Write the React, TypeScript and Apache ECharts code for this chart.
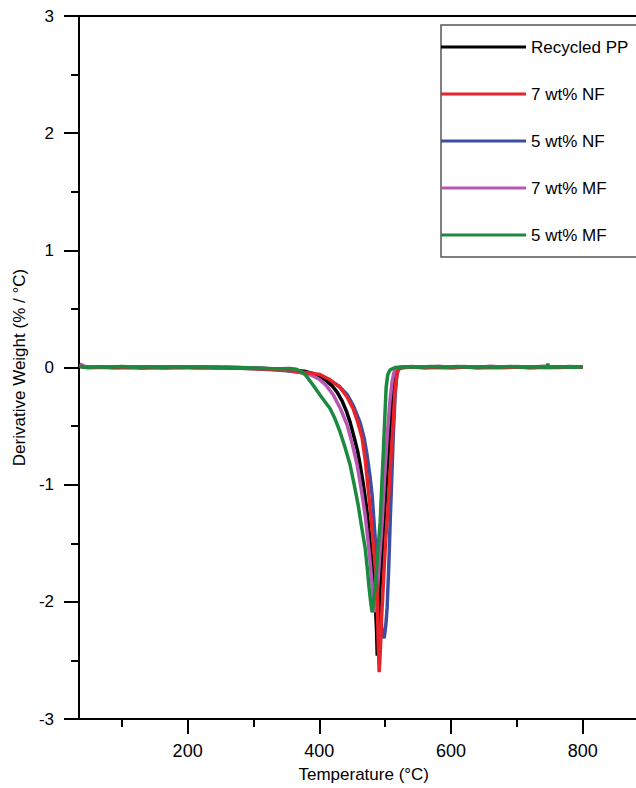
import React, { useEffect, useRef } from "react";
import * as echarts from "echarts";

const seriesNames = ["Recycled PP", "7 wt% NF", "5 wt% NF", "7 wt% MF", "5 wt% MF"];
const seriesColors = ["#000000", "#e8232a", "#3a4ea3", "#b955b3", "#1b8a3f"];

const xMajorTicks = [200, 400, 600, 800];
const xMinorTicks = [100, 300, 500, 700, 900];

const recycledPP: number[][] = [
  [36, 0.01], [50, 0.0], [70, 0.005], [90, 0.0], [110, 0.004], [130, -0.002], [150, 0.003], [170, 0.0],
  [190, 0.004], [210, 0.0], [230, 0.002], [250, 0.0], [270, -0.002], [290, -0.004], [310, -0.006],
  [330, -0.01], [350, -0.016], [365, -0.025], [380, -0.035], [390, -0.05], [400, -0.075], [410, -0.11],
  [420, -0.16], [427, -0.21], [435, -0.29], [441, -0.37], [447, -0.47], [453, -0.6], [458, -0.71],
  [462, -0.83], [467, -1.0], [472.6, -1.23], [476, -1.42], [480, -1.66], [483, -1.86], [485, -2.0],
  [487, -2.25], [488, -2.46], [489, -2.3], [490, -2.1], [492.5, -1.85], [495.4, -1.6], [499, -1.25],
  [503, -0.89], [507, -0.55], [510.6, -0.23], [513, -0.09], [515, -0.03], [518, -0.005], [525, 0.0],
  [540, 0.004], [560, 0.0], [580, 0.005], [600, 0.0], [620, 0.004], [640, 0.0], [660, 0.005],
  [680, 0.002], [700, 0.005], [720, 0.0], [740, 0.004], [760, 0.002], [780, 0.005], [800, 0.003],
];

const nf7: number[][] = [
  [36, 0.01], [48, 0.0], [65, 0.004], [85, -0.002], [105, 0.003], [125, 0.0], [145, 0.002], [165, -0.003],
  [185, 0.002], [205, 0.0], [225, -0.002], [245, 0.0], [265, -0.004], [285, -0.006], [305, -0.01],
  [325, -0.014], [345, -0.02], [360, -0.03], [375, -0.04], [390, -0.05], [401, -0.06], [415, -0.1],
  [431.5, -0.17], [442, -0.25], [451.3, -0.35], [458, -0.46], [465, -0.6], [470, -0.8], [474.1, -1.03],
  [478, -1.25], [481.7, -1.49], [485, -1.7], [487.8, -1.88], [489.3, -2.31], [490.9, -2.6], [492.4, -2.45],
  [494.5, -2.15], [497, -1.88], [500.5, -1.5], [504.6, -1.17], [508.5, -0.8], [512.2, -0.47], [515, -0.2],
  [518.3, -0.04], [522, -0.005], [530, 0.0], [545, 0.004], [565, 0.0], [585, 0.003], [605, -0.002],
  [625, 0.004], [645, 0.0], [665, 0.003], [685, 0.0], [705, 0.004], [725, 0.001], [745, 0.004],
  [765, 0.0], [785, 0.004], [800, 0.002],
];

const nf5: number[][] = [
  [36, 0.01], [50, 0.002], [70, 0.0], [90, 0.004], [110, -0.002], [130, 0.002], [150, 0.0], [170, 0.003],
  [190, -0.002], [210, 0.002], [230, 0.0], [250, -0.003], [270, -0.005], [300, -0.01], [330, -0.02],
  [350, -0.028], [370.6, -0.04], [395, -0.07], [416.3, -0.11], [430, -0.16], [442.2, -0.23], [452, -0.33],
  [462, -0.47], [468, -0.6], [472.6, -0.75], [477, -0.93], [480.2, -1.09], [484.8, -1.45], [489.3, -1.88],
  [492.5, -2.1], [495.4, -2.26], [498.5, -2.31], [501, -2.2], [503, -2.05], [505.5, -1.7], [507.6, -1.32],
  [510, -0.95], [512.2, -0.6], [515.2, -0.23], [517.5, -0.08], [519.8, -0.02], [524, 0.0], [535, 0.004],
  [555, 0.0], [575, 0.003], [595, 0.0], [615, 0.004], [635, -0.001], [655, 0.003], [675, 0.0],
  [695, 0.004], [715, 0.0], [735, 0.003], [755, 0.0], [775, 0.004], [800, 0.002],
];

const mf7: number[][] = [
  [36, 0.03], [40, 0.02], [45, 0.005], [60, 0.0], [75, 0.006], [95, -0.003], [115, 0.005], [135, 0.0],
  [155, 0.006], [175, -0.002], [195, 0.004], [215, 0.0], [235, 0.005], [255, -0.002], [275, 0.0],
  [300, -0.006], [330, -0.012], [355, -0.025], [370, -0.04], [385.8, -0.06], [400, -0.1], [410, -0.15],
  [420.9, -0.23], [432, -0.35], [442.2, -0.49], [450, -0.65], [457.4, -0.83], [464, -1.05], [469.6, -1.26],
  [474, -1.48], [477.2, -1.66], [480, -1.84], [481.7, -1.94], [484.8, -2.09], [487.8, -1.94], [491.5, -1.63],
  [495.4, -1.32], [499, -0.95], [503, -0.6], [507, -0.3], [510.6, -0.12], [513, -0.05], [516, -0.01],
  [522, 0.0], [540, 0.008], [560, 0.0], [580, 0.01], [600, 0.002], [620, 0.009], [640, 0.0],
  [660, 0.01], [680, 0.002], [700, 0.008], [720, 0.0], [740, 0.01], [760, 0.003], [780, 0.009], [800, 0.004],
];

const mf5: number[][] = [
  [36, 0.01], [45, 0.0], [60, 0.006], [80, 0.002], [100, 0.008], [120, 0.003], [140, 0.007], [160, 0.002],
  [180, 0.006], [200, 0.003], [220, 0.006], [240, 0.002], [260, 0.005], [280, 0.0], [300, -0.005],
  [320, -0.008], [340, -0.01], [355, -0.008], [365, -0.015], [373, -0.035], [380, -0.07], [390.4, -0.15], [403, -0.25],
  [416.3, -0.35], [424, -0.44], [431.5, -0.55], [439, -0.68], [446.7, -0.83], [453, -1.0], [458.9, -1.17],
  [464, -1.35], [469.6, -1.54], [473, -1.72], [475.6, -1.88], [478, -2.0], [480.2, -2.09], [482.5, -2.0],
  [484.8, -1.88], [488.5, -1.6], [492.4, -1.32], [494.7, -1.03], [497, -0.75], [499.3, -0.45], [501.5, -0.17],
  [504, -0.06], [507.6, -0.02], [515, 0.0], [530, 0.006], [550, 0.002], [570, 0.008], [590, 0.003],
  [610, 0.008], [630, 0.002], [650, 0.007], [670, 0.003], [690, 0.008], [710, 0.002], [730, 0.006],
  [745, 0.0], [747, 0.03], [749, 0.0], [765, 0.006], [785, 0.002], [800, 0.005],
];

const seriesData = [recycledPP, nf7, nf5, mf7, mf5];
// drawing order (bottom to top)
const drawOrder = [2, 0, 3, 1, 4];

const FONT = "'Liberation Sans', Arial, Helvetica, sans-serif";

export default function App() {
  const ref = useRef<HTMLDivElement>(null);

  useEffect(() => {
    if (!ref.current) return;
    const chart = echarts.init(ref.current, null, { renderer: "svg" });
    const option: any = {
      animation: false,
      backgroundColor: "#ffffff",
      textStyle: { fontFamily: FONT },
      grid: {
        left: 79,
        top: 16,
        right: 51.5,
        bottom: 69,
        show: true,
        borderColor: "#000",
        borderWidth: 2,
        backgroundColor: "transparent",
      },
      legend: {
        orient: "vertical",
        left: 441,
        top: 25,
        icon: "rect",
        itemWidth: 85,
        itemHeight: 3,
        itemGap: 29,
        padding: [13, 12, 13, 0],
        borderColor: "#555",
        borderWidth: 1.5,
        backgroundColor: "#fff",
        data: seriesNames,
        textStyle: { fontSize: 17, color: "#000", lineHeight: 18, fontFamily: FONT },
      },
      xAxis: [
        {
          type: "value",
          min: 35,
          max: 900,
          position: "bottom",
          axisLine: { show: true, onZero: false, lineStyle: { color: "#000", width: 2 } },
          axisTick: { show: true, inside: false, customValues: xMajorTicks, length: 15, lineStyle: { color: "#000", width: 2 } },
          axisLabel: { customValues: xMajorTicks, fontSize: 18, color: "#000", margin: 23, fontFamily: FONT },
          splitLine: { show: false },
          name: "Temperature (°C)",
          nameLocation: "middle",
          nameGap: 47,
          nameTextStyle: { fontSize: 17, color: "#000", fontFamily: FONT },
        },
        {
          type: "value",
          min: 35,
          max: 900,
          position: "bottom",
          axisLine: { show: false, onZero: false },
          axisTick: { show: true, inside: false, customValues: xMinorTicks, length: 8, lineStyle: { color: "#000", width: 2 } },
          axisLabel: { show: false },
          splitLine: { show: false },
        },
      ],
      yAxis: {
        type: "value",
        min: -3,
        max: 3,
        interval: 1,
        axisLine: { show: true, onZero: false, lineStyle: { color: "#000", width: 2 } },
        axisTick: { show: true, inside: false, length: 15, lineStyle: { color: "#000", width: 2 } },
        minorTick: { show: true, splitNumber: 2, length: 8, lineStyle: { color: "#000", width: 2 } },
        axisLabel: { fontSize: 17, color: "#000", margin: 25, fontFamily: FONT },
        splitLine: { show: false },
        minorSplitLine: { show: false },
        name: "Derivative Weight (% / °C)",
        nameLocation: "middle",
        nameGap: 45,
        nameTextStyle: { fontSize: 17, color: "#000", fontFamily: FONT },
      },
      series: drawOrder.map((i) => ({
        name: seriesNames[i],
        type: "line",
        xAxisIndex: 0,
        data: seriesData[i],
        showSymbol: false,
        symbol: "none",
        color: seriesColors[i],
        lineStyle: { color: seriesColors[i], width: 3.5 },
        smooth: false,
      })),
    };
    chart.setOption(option);
    return () => chart.dispose();
  }, []);

  return (
    <div
      style={{
        position: "fixed",
        left: 0,
        top: 0,
        width: 636,
        height: 788,
        overflow: "hidden",
        background: "#fff",
      }}
    >
      <div ref={ref} style={{ width: 700, height: 788 }} />
    </div>
  );
}
